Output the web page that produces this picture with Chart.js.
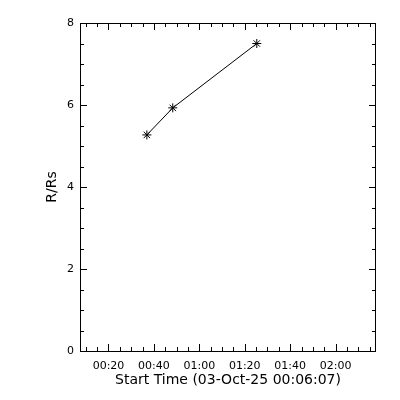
<!DOCTYPE html>
<html>
<head>
<meta charset="utf-8">
<script src="https://cdn.jsdelivr.net/npm/chart.js"></script>
<style>
  body { margin: 0; background: #fff; }
  canvas { display: block; }
</style>
</head>
<body>
<canvas id="heightTimeChart" width="400" height="400"></canvas>
<script>
// minutes after 00:00 on 03-Oct-25
const startMinutes = [36.9, 48.3, 85.3];
const radiusRs = [5.27, 5.93, 7.50];

const xTickMinutes = [20, 40, 60, 80, 100, 120];
const xTickLabels = ["00:20", "00:40", "01:00", "01:20", "01:40", "02:00"];
const yTickValues = [0, 2, 4, 6, 8];

const xTitle = "Start Time (03-Oct-25 00:06:07)";
const yTitle = "R/Rs";

// IDL-style box with inward major/minor ticks on all four sides
const idlBox = {
  id: "idlBox",
  afterDraw(chart) {
    const { ctx, chartArea: a, scales } = chart;
    const x = scales.x, y = scales.y;
    const major = 7, minor = 4;
    ctx.save();
    ctx.strokeStyle = "#000";
    ctx.lineWidth = 1;
    ctx.beginPath();
    ctx.rect(a.left + 0.5, a.top + 0.5, a.right - a.left - 1, a.bottom - a.top);
    for (let m = 10; m <= x.max; m += 5) {
      if (m < x.min) continue;
      const px = Math.round(x.getPixelForValue(m)) + 0.5;
      const len = m % 20 === 0 ? major : minor;
      ctx.moveTo(px, a.bottom);
      ctx.lineTo(px, a.bottom - len);
      ctx.moveTo(px, a.top);
      ctx.lineTo(px, a.top + len);
    }
    for (let v = 0; v <= 8; v += 0.5) {
      const py = Math.round(y.getPixelForValue(v)) + 0.5;
      const len = v % 2 === 0 ? major : minor;
      ctx.moveTo(a.left, py);
      ctx.lineTo(a.left + len, py);
      ctx.moveTo(a.right, py);
      ctx.lineTo(a.right - len, py);
    }
    ctx.stroke();
    ctx.restore();
  }
};

new Chart(document.getElementById("heightTimeChart"), {
  type: "line",
  data: {
    datasets: [{
      data: startMinutes.map((t, i) => ({ x: t, y: radiusRs[i] })),
      borderColor: "#000",
      borderWidth: 1,
      pointStyle: "star",
      pointRadius: 4.5,
      pointBorderColor: "#000",
      pointBorderWidth: 1,
      fill: false,
      tension: 0,
    }]
  },
  options: {
    responsive: false,
    animation: false,
    layout: {
      padding: { left: 0, right: 24, top: 23, bottom: 0 }
    },
    scales: {
      x: {
        type: "linear",
        min: 7.45,
        max: 137.8,
        afterFit: (s) => { s.height = 49; },
        afterBuildTicks: (s) => { s.ticks = xTickMinutes.map(v => ({ value: v })); },
        grid: { display: false, drawTicks: false },
        border: { display: false },
        ticks: {
          color: "#000",
          padding: 9,
          maxRotation: 0,
          autoSkip: false,
          font: { family: "DejaVu Sans", size: 11 },
          callback: (v) => xTickLabels[xTickMinutes.indexOf(v)]
        },
        title: {
          display: true,
          text: xTitle,
          color: "#000",
          padding: { top: 0, bottom: 11 },
          font: { family: "DejaVu Sans", size: 14 }
        }
      },
      y: {
        min: 0,
        max: 8,
        afterFit: (s) => { s.width = 80; },
        afterBuildTicks: (s) => { s.ticks = yTickValues.map(v => ({ value: v })); },
        grid: { display: false, drawTicks: false },
        border: { display: false },
        ticks: {
          color: "#000",
          padding: 6,
          font: { family: "DejaVu Sans", size: 11 }
        },
        title: {
          display: true,
          text: yTitle,
          color: "#000",
          padding: { top: 43.6, bottom: 0 },
          font: { family: "DejaVu Sans", size: 14 }
        }
      }
    },
    plugins: {
      legend: { display: false },
      tooltip: { enabled: false }
    }
  },
  plugins: [idlBox]
});
</script>
</body>
</html>
